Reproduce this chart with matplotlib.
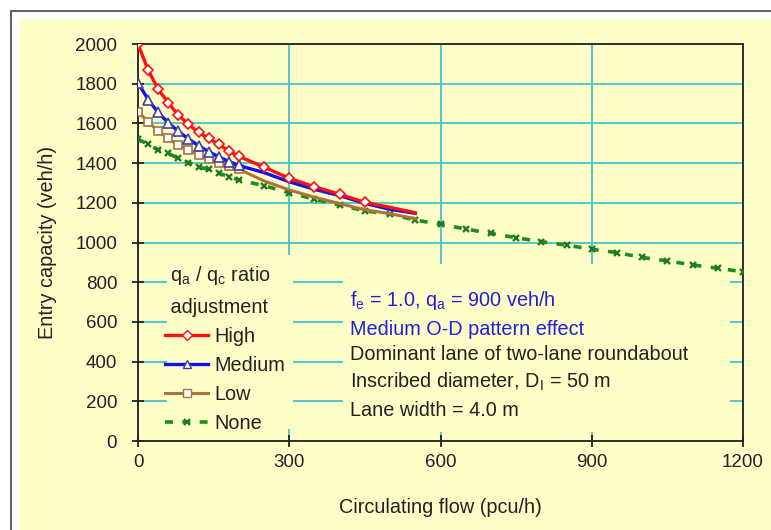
import numpy as np
import matplotlib
matplotlib.use('Agg')
import matplotlib.pyplot as plt
from matplotlib.lines import Line2D
from matplotlib.patches import Rectangle

plt.rcParams['font.family'] = ['Liberation Sans', 'DejaVu Sans']
plt.rcParams['mathtext.fontset'] = 'custom'
plt.rcParams['mathtext.rm'] = 'Liberation Sans'

# data
flow_adj = [0, 20, 40, 60, 80, 100, 120, 140, 160, 180, 200, 250, 300, 350, 400, 450, 500, 550]
cap_high = [2000, 1869, 1772, 1704, 1642, 1595, 1555, 1525, 1495, 1461, 1434, 1380, 1323, 1281, 1243, 1202, 1177, 1150]
cap_medium = [1805, 1720, 1655, 1603, 1560, 1522, 1488, 1458, 1432, 1408, 1388, 1352, 1306, 1268, 1236, 1197, 1167, 1147]
cap_low = [1659, 1609, 1560, 1525, 1491, 1466, 1441, 1419, 1400, 1384, 1370, 1310, 1265, 1228, 1196, 1165, 1145, 1120]
n_marked = 11  # markers drawn for the first points only (brown / blue)

flow_none = [0, 20, 40, 60, 80, 100, 120, 140, 160, 180, 200,
             250, 300, 350, 400, 450, 500, 550, 600, 650, 700, 750, 800,
             850, 900, 950, 1000, 1050, 1100, 1150, 1200]
cap_none = [1520, 1495, 1466, 1449, 1424, 1402, 1382, 1368, 1349, 1332, 1315,
            1286, 1251, 1218, 1189, 1159, 1143, 1113, 1092, 1068, 1046, 1024, 1004,
            987, 966, 949, 925, 907, 887, 870, 853]

x_ticks = [0, 300, 600, 900, 1200]
y_ticks = list(range(0, 2001, 200))

yellow = '#FFFEC8'
grid_col = '#45C4C8'
fs = 14.3

fig = plt.figure(figsize=(7.71, 5.30), dpi=100)
fig.patch.set_facecolor('white')
# outer frame and yellow chart area
fig.patches.append(Rectangle((11/771, -0.1), 2, 0.979 + 0.1, transform=fig.transFigure,
                             facecolor='white', edgecolor='#555555', lw=1.3, zorder=-20))
fig.patches.append(Rectangle((20/771, -0.1), 2, 0.964 + 0.1, transform=fig.transFigure,
                             facecolor=yellow, edgecolor='none', zorder=-10))

ax = fig.add_axes([138/771, 89/530, 605/771, 397/530])
ax.set_facecolor(yellow)
ax.set_axisbelow(True)

ax.plot(flow_none, cap_none, color='#1E8C1E', lw=2.6, ls=(0, (2.2, 2.6)),
        marker='x', ms=5, mew=1.7, mec='#1E7A1E', zorder=3)
ax.plot(flow_adj, cap_low, color='#A8743C', lw=2.2, zorder=4)
ax.plot(flow_adj[:n_marked], cap_low[:n_marked], ls='none', marker='s', ms=6,
        mfc='white', mec='#A8743C', mew=1.2, zorder=4)
ax.plot(flow_adj, cap_medium, color='#1010F0', lw=2.4, zorder=5)
ax.plot(flow_adj[:n_marked], cap_medium[:n_marked], ls='none', marker='^', ms=6.5,
        mfc='white', mec='#4040A0', mew=1.2, zorder=5)
ax.plot(flow_adj, cap_high, color='#FF1010', lw=2.4, zorder=6)
ax.plot(flow_adj[:16], cap_high[:16], ls='none', marker='D', ms=5,
        mfc='white', mec='#FF1010', mew=1.2, zorder=6)

ax.set_xlim(0, 1200)
ax.set_ylim(0, 2000)
ax.set_xticks(x_ticks)
ax.set_yticks(y_ticks)
ax.grid(True, color=grid_col, lw=1.3)
for s in ax.spines.values():
    s.set_color('#222222')
    s.set_linewidth(1.3)
ax.tick_params(direction='inout', length=8, width=1.3, color='#222222',
               labelsize=13.5, labelcolor='#222222')
ax.tick_params(axis='y', pad=11)
ax.tick_params(axis='x', pad=5.5)

ax.set_xlabel('Circulating flow (pcu/h)', fontsize=fs, color='#222222', labelpad=19)
ax.set_ylabel('Entry capacity (veh/h)', fontsize=fs, color='#222222', labelpad=13)

# yellow boxes behind legend and notes (hide the grid there)
ax.add_patch(Rectangle((58, 62), 250, 875, facecolor=yellow, edgecolor='none', zorder=1))
ax.add_patch(Rectangle((407, 45), 768, 845, facecolor=yellow, edgecolor='none', zorder=1))

handles = [
    Line2D([], [], color='#FF1010', lw=2.4, marker='D', ms=5, mfc='white', mec='#FF1010'),
    Line2D([], [], color='#1010F0', lw=2.4, marker='^', ms=6, mfc='white', mec='#4040A0'),
    Line2D([], [], color='#A8743C', lw=2.2, marker='s', ms=6, mfc='white', mec='#A8743C'),
    Line2D([], [], color='#1E8C1E', lw=2.6, ls=(0, (2.2, 2.6)), marker='x', ms=4.5,
           mew=1.6, mec='#1E7A1E'),
]
labels = ['High', 'Medium', 'Low', 'None']
leg = ax.legend(handles, labels,
                title=' q$_\\mathregular{a}$ / q$_\\mathregular{c}$ ratio\n adjustment',
                loc='upper left', bbox_to_anchor=(0.045, 0.445), frameon=False,
                alignment='left', fontsize=fs, title_fontsize=fs,
                handlelength=2.15, handletextpad=0.3, labelspacing=0.51,
                borderpad=0, borderaxespad=0)
leg.get_title().set_linespacing(1.7)
leg.get_title().set_color('#222222')
leg._legend_box.sep = 7
for t in leg.get_texts():
    t.set_color('#222222')

notes = [
    ('f$_\\mathregular{e}$ = 1.0, q$_\\mathregular{a}$ = 900 veh/h', '#2020D8', 0.339),
    ('Medium O-D pattern effect', '#2020D8', 0.268),
    ('Dominant lane of two-lane roundabout', '#222222', 0.205),
    ('Inscribed diameter, D$_\\mathregular{I}$ = 50 m', '#222222', 0.133),
    ('Lane width = 4.0 m', '#222222', 0.062),
]
for txt, col, yy in notes:
    ax.text(0.350, yy, txt, transform=ax.transAxes, fontsize=fs, color=col,
            va='baseline', ha='left', zorder=7)

fig.savefig('out.png', dpi=100, facecolor=fig.get_facecolor())
